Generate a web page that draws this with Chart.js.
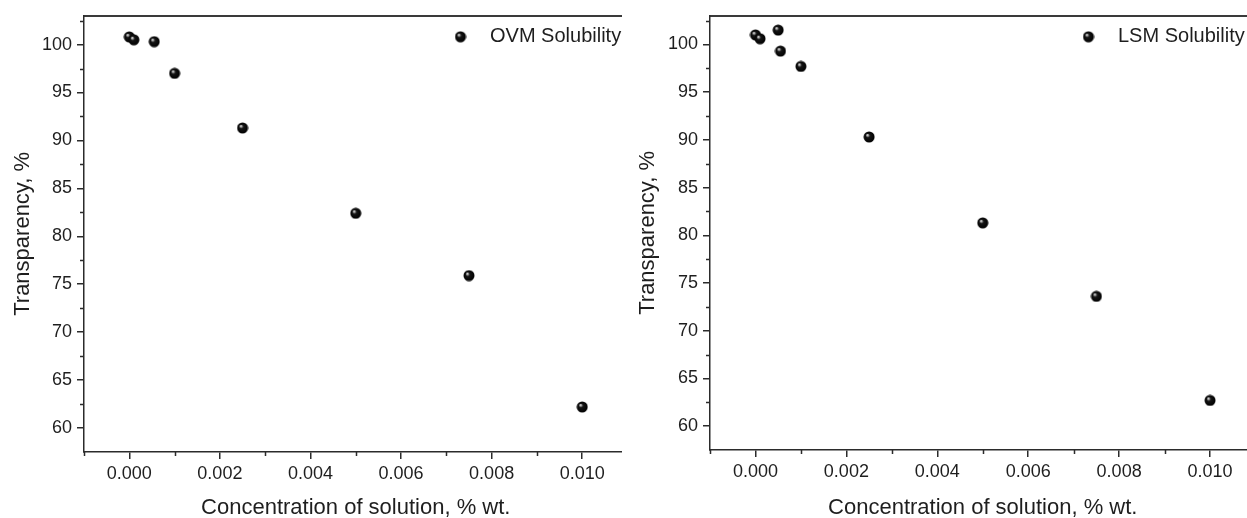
<!DOCTYPE html>
<html>
<head>
<meta charset="utf-8">
<script src="https://cdn.jsdelivr.net/npm/chart.js@4.4.0/dist/chart.umd.min.js"></script>
<style>
  html, body { margin: 0; padding: 0; background: #fff; }
  .panel { position: absolute; top: 0; height: 518px; overflow: hidden; }
  #left { left: 0; width: 622px; }
  #right { left: 624px; width: 623px; }
  canvas { display: block; }
</style>
</head>
<body>
<div class="panel" id="left"><canvas id="ovmChart" width="634" height="518"></canvas></div>
<div class="panel" id="right"><canvas id="lsmChart" width="638" height="518"></canvas></div>
<script>
// data
const concOVM = [0, 0.0001, 0.00055, 0.001, 0.0025, 0.005, 0.0075, 0.01];
const transOVM = [100.8, 100.5, 100.3, 97.0, 91.3, 82.4, 75.9, 62.2];

const concLSM = [0, 0.0001, 0.0005, 0.00055, 0.001, 0.0025, 0.005, 0.0075, 0.01];
const transLSM = [101.0, 100.6, 101.5, 99.3, 97.7, 90.3, 81.3, 73.6, 62.7];

const xTicks = [0, 0.002, 0.004, 0.006, 0.008, 0.010];
const xMinor = [-0.001, 0.001, 0.003, 0.005, 0.007, 0.009, 0.011];
const yTicks = [60, 65, 70, 75, 80, 85, 90, 95, 100];
const yMinor = [62.5, 67.5, 72.5, 77.5, 82.5, 87.5, 92.5, 97.5, 102.5];

const xTitle = 'Concentration of solution, % wt.';
const yTitle = 'Transparency, %';

const axisColor = '#2b2b2b';
const textColor = '#1e1e1e';
Chart.defaults.font.family = '"Liberation Sans", Arial, sans-serif';

function makeSphere(r) {
    const c = document.createElement('canvas');
    c.width = c.height = Math.ceil(r * 2) + 1;
    const g = c.getContext('2d');
    const m = c.width / 2;
    const grad = g.createRadialGradient(m - r * 0.35, m - r * 0.4, 0, m, m, r);
    grad.addColorStop(0, '#ffffff');
    grad.addColorStop(0.15, '#b0b0b0');
    grad.addColorStop(0.38, '#151515');
    grad.addColorStop(1, '#000000');
    g.fillStyle = grad;
    g.beginPath();
    g.arc(m, m, r, 0, Math.PI * 2);
    g.fill();
    return c;
}
const sphere = makeSphere(5.5);

// small ticks between the labelled ones
const minorTicks = {
    id: 'minorTicks',
    afterDraw(chart) {
        const {ctx, chartArea} = chart;
        const x = chart.scales.x, y = chart.scales.y;
        ctx.save();
        ctx.strokeStyle = axisColor;
        ctx.lineWidth = 1.5;
        ctx.beginPath();
        xMinor.forEach(v => {
            const px = Math.round(x.getPixelForValue(v)) + 0.5;
            ctx.moveTo(px, chartArea.bottom);
            ctx.lineTo(px, chartArea.bottom + 4);
        });
        yMinor.forEach(v => {
            const py = Math.round(y.getPixelForValue(v)) + 0.5;
            ctx.moveTo(chartArea.left, py);
            ctx.lineTo(chartArea.left - 4, py);
        });
        ctx.stroke();
        ctx.restore();
    }
};

// legend sitting in the top right corner of the plot
const cornerLegend = {
    id: 'cornerLegend',
    afterDatasetsDraw(chart) {
        const {ctx, chartArea} = chart;
        const ds = chart.data.datasets[0];
        const mx = chartArea.right - 167;
        const my = chartArea.top + 21;
        ctx.save();
        ctx.drawImage(sphere, mx - sphere.width / 2, my - sphere.height / 2);
        ctx.font = '20px "Liberation Sans", Arial, sans-serif';
        ctx.fillStyle = textColor;
        ctx.textBaseline = 'middle';
        ctx.textAlign = 'left';
        ctx.fillText(ds.label, mx + 29.5, my);
        ctx.restore();
    }
};

function buildChart(canvasId, label, xs, ys, lay) {
    const points = xs.map((v, i) => ({x: v, y: ys[i]}));
    return new Chart(document.getElementById(canvasId), {
        type: 'scatter',
        data: {
            datasets: [{
                label: label,
                data: points,
                xAxisID: 'x',
                yAxisID: 'y',
                pointStyle: sphere,
                pointRadius: 5.5,
                pointHoverRadius: 5.5
            }]
        },
        options: {
            responsive: false,
            animation: false,
            events: [],
            layout: {padding: {top: lay.top, right: 0, bottom: 0, left: 0}},
            plugins: {
                legend: {display: false},
                tooltip: {enabled: false}
            },
            scales: {
                x: {
                    type: 'linear',
                    position: 'bottom',
                    min: -0.001,
                    max: 0.011,
                    afterBuildTicks: s => { s.ticks = xTicks.map(value => ({value})); },
                    afterFit: s => { s.height = lay.xHeight; },
                    grid: {drawOnChartArea: false, drawTicks: true, tickLength: 7, color: axisColor, lineWidth: 1.5},
                    border: {display: true, color: axisColor, width: 1.5},
                    ticks: {
                        font: {size: 18},
                        color: textColor,
                        padding: 4,
                        maxRotation: 0,
                        callback: v => v.toFixed(3)
                    },
                    title: {
                        display: true,
                        text: xTitle,
                        color: textColor,
                        font: {size: 22, lineHeight: 0.9},
                        padding: 0
                    }
                },
                xTop: {
                    type: 'linear',
                    position: 'top',
                    min: -0.001,
                    max: 0.011,
                    afterFit: s => { s.height = 0; },
                    grid: {display: false},
                    ticks: {display: false},
                    border: {display: true, color: '#3a3a3a', width: 2}
                },
                y: {
                    type: 'linear',
                    position: 'left',
                    min: 57.5,
                    max: 103,
                    afterBuildTicks: s => { s.ticks = yTicks.map(value => ({value})); },
                    afterFit: s => { s.width = lay.yWidth; },
                    grid: {drawOnChartArea: false, drawTicks: true, tickLength: 7, color: axisColor, lineWidth: 1.5},
                    border: {display: true, color: axisColor, width: 1.5},
                    ticks: {
                        font: {size: 18},
                        color: textColor,
                        padding: 5
                    },
                    title: {
                        display: true,
                        text: yTitle,
                        color: textColor,
                        font: {size: 22, lineHeight: 1},
                        padding: {top: lay.titlePad, bottom: 0}
                    }
                }
            }
        },
        plugins: [minorTicks, cornerLegend]
    });
}

buildChart('ovmChart', 'OVM Solubility', concOVM, transOVM, {top: 15, xHeight: 66, yWidth: 84, titlePad: 12});
buildChart('lsmChart', 'LSM Solubility', concLSM, transLSM, {top: 13, xHeight: 68, yWidth: 86, titlePad: 13});
</script>
</body>
</html>
